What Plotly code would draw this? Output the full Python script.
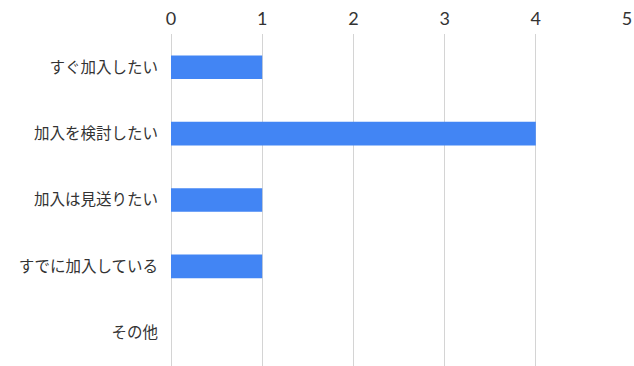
import plotly.graph_objects as go

# Survey responses (count per answer)
categories = ["すぐ加入したい", "加入を検討したい", "加入は見送りたい", "すでに加入している", "その他"]
counts = [1, 4, 1, 1, 0]
x_ticks = [0, 1, 2, 3, 4, 5]

font_family = "Noto Sans CJK JP, Noto Sans, sans-serif"

fig = go.Figure(
    go.Bar(
        x=counts,
        y=categories,
        orientation="h",
        marker=dict(color="#4285f4", line=dict(width=0)),
        hoverinfo="x+y",
    )
)

fig.update_layout(
    width=634,
    height=366,
    margin=dict(l=171, r=7, t=34, b=0),
    paper_bgcolor="white",
    plot_bgcolor="white",
    bargap=0.645,
    showlegend=False,
    font=dict(family=font_family),
)

fig.update_xaxes(
    side="top",
    range=[0, 5],
    tickvals=x_ticks,
    ticktext=[str(v) for v in x_ticks],
    showgrid=True,
    gridcolor="#d4d4d4",
    gridwidth=1,
    zeroline=True,
    zerolinecolor="#d4d4d4",
    zerolinewidth=1,
    showline=False,
    ticks="",
    ticklabelstandoff=4,
    tickfont=dict(size=18, color="#333333", family="Lato, Noto Sans, sans-serif"),
    fixedrange=True,
)

fig.update_yaxes(
    categoryorder="array",
    categoryarray=categories,
    autorange="reversed",
    showgrid=False,
    zeroline=False,
    showline=False,
    ticks="",
    ticklabelstandoff=12,
    tickfont=dict(size=15.5, color="#333333", family=font_family),
    fixedrange=True,
)

fig.write_html("out.html", config={"displayModeBar": False})
